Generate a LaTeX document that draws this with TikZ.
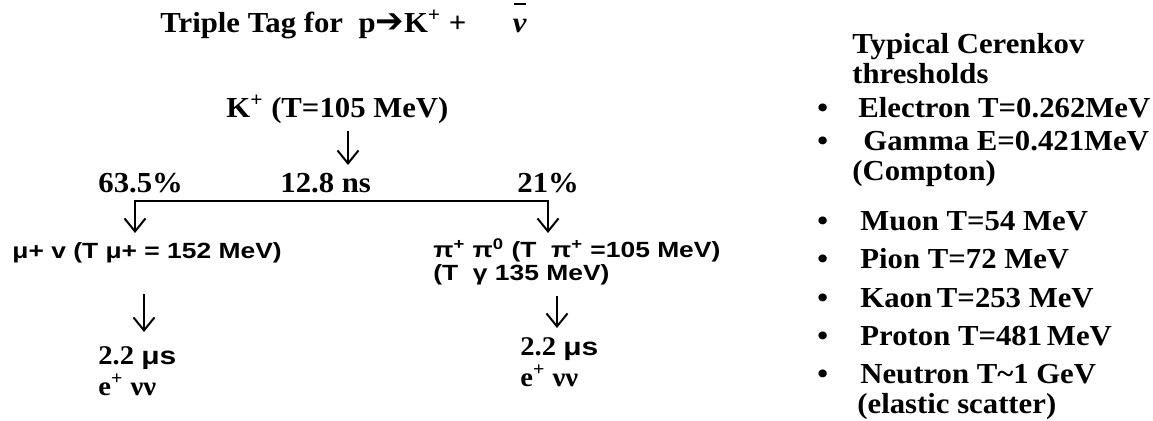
\documentclass[tikz,border=0pt]{standalone}
\usepackage{fontspec}
\setmainfont{Liberation Serif}[FakeStretch=1.06]
\newfontfamily\sansfnt{Liberation Sans}[FakeStretch=1.2]
\newfontfamily\arrowfnt{DejaVu Sans}
\usetikzlibrary{arrows.meta}
\newcommand{\nubar}{{\itshape\rlap{\kern0.05em\rule[0.92em]{0.4em}{0.07em}}ν}}

\begin{document}
\begin{tikzpicture}[x=0.5pt,y=-0.5pt,
  txt/.style={anchor=base west,inner sep=0pt,font=\fontsize{14.5}{16}\selectfont\bfseries},
  lowtxt/.style={anchor=base west,inner sep=0pt,font=\fontsize{13.5}{15}\selectfont\bfseries},
  sanstxt/.style={anchor=base west,inner sep=0pt,font=\fontsize{11}{13}\sansfnt\bfseries},
  darr/.style={line width=1pt,-{Straight Barb[length=6.5pt,width=10.5pt]}},
  bracket/.style={line width=1pt,{Straight Barb[length=6.5pt,width=10.5pt]}-{Straight Barb[length=6.5pt,width=10.5pt]}}]
  \useasboundingbox (0,0) rectangle (1153,420);

  % decay chain
  \node[txt] (title) at (160,32) {Triple Tag for\ \ p{\fontsize{17}{17}\arrowfnt\bfseries ➔}K\textsuperscript{+} +\hspace{1.6em}\nubar};
  \node[txt] (kplus) at (226,117) {K\textsuperscript{+} (T=105 MeV)};
  \coordinate (ktip) at (348,165);
  \draw[darr,shorten <=3.5pt] (ktip |- kplus.south) -- (ktip);

  \node[txt] (br63) at (98,192) {63.5\%};
  \node[txt] (life) at (280,192) {12.8 ns};
  \node[txt] (br21) at (517,192) {21\%};
  \coordinate (bl) at (135,201);
  \coordinate (br) at (548,201);
  \coordinate (mutip) at (135,233);
  \coordinate (pitip) at (548,233);
  \draw[bracket] (mutip) -- (bl) -- (br) -- (pitip);

  \node[sanstxt] (mu) at (12,258) {μ+ v (T μ+ = 152 MeV)};
  \node[sanstxt] (pi) at (433,257) {π\textsuperscript{+} π\textsuperscript{0} (T\ \ π\textsuperscript{+} =105 MeV)};
  \node[sanstxt] (gam) at (433,280) {(T\ \ γ 135 MeV)};

  \coordinate (ltip) at (144,332);
  \coordinate (rtip) at (557,328);
  \draw[darr,shorten <=15.5pt] (ltip |- mu.south) -- (ltip);
  \draw[darr,shorten <=5.5pt] (rtip |- gam.south) -- (rtip);

  \node[lowtxt] (mulife) at (98,364) {2.2 {\fontsize{12.5}{14}\sansfnt\bfseries μs}};
  \node[lowtxt] (muprod) at (98,395) {e\textsuperscript{+} νν};
  \node[lowtxt] (pilife) at (520,355) {2.2 {\fontsize{12.5}{14}\sansfnt\bfseries μs}};
  \node[lowtxt] (piprod) at (520,386) {e\textsuperscript{+} νν};

  % thresholds
  \node[txt] (cer1) at (852,53) {Typical Cerenkov};
  \node[txt] (cer2) at (852,83) {thresholds};
  \foreach \y in {117,150,230,268,307,345,383}
    \node[txt] (dot\y) at (817,\y) {•};
  \node[txt] (elec) at (858,117) {Electron T=0.262MeV};
  \node[txt] (gamma) at (863,150) {Gamma E=0.421MeV};
  \node[txt] (compt) at (852,180) {(Compton)};
  \node[txt] (muon) at (860,230) {Muon T=54 MeV};
  \node[txt] (pion) at (860,268) {Pion T=72 MeV};
  \node[txt] (kaon) at (860,307) {Kaon\,T=253 MeV};
  \node[txt] (prot) at (860,345) {Proton T=481\,MeV};
  \node[txt] (neut) at (860,383) {Neutron T\textasciitilde1 GeV};
  \node[txt] (elast) at (857,413) {(elastic scatter)};
\end{tikzpicture}
\end{document}
